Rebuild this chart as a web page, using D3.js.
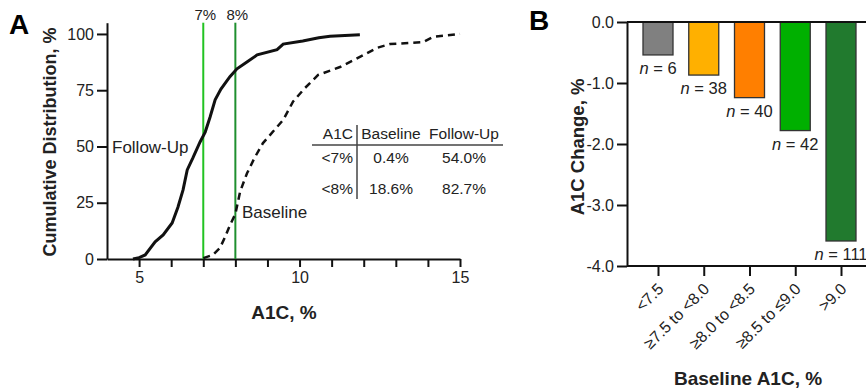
<!DOCTYPE html>
<html>
<head>
<meta charset="utf-8">
<script src="https://cdn.jsdelivr.net/npm/d3@7"></script>
<style>
  body { margin: 0; background: #fff; }
  svg { font-family: Arial, "Liberation Sans", sans-serif; }
  .axis path, .axis line { stroke: #111; stroke-width: 2px; }
  .axis text { fill: #222; }
</style>
</head>
<body>
<div id="chart"></div>
<script>
// panel A: cumulative distributions (A1C %, cumulative %)
const followUp = [
  [4.81, 0], [5.0, 0.6], [5.19, 1.8], [5.5, 7.6], [5.75, 10.7], [6.03, 16],
  [6.21, 23], [6.37, 30.7], [6.5, 39.6], [6.68, 45], [6.9, 52], [7.06, 56.4],
  [7.21, 63], [7.37, 70.7], [7.55, 75.5], [7.83, 81], [8.05, 84.5], [8.36, 87.5],
  [8.68, 90.7], [9.3, 93], [9.49, 95.5], [10.1, 96.9], [10.6, 98.3], [10.95, 99],
  [11.88, 99.6]
];
const baseline = [
  [7.0, 0.4], [7.3, 1.8], [7.52, 4.9], [7.68, 9.8], [7.83, 15], [8.0, 20],
  [8.15, 30], [8.36, 38], [8.6, 45], [8.86, 51.5], [9.3, 58.7], [9.49, 61.8],
  [9.8, 70], [10.17, 76], [10.58, 81.8], [11.26, 85.3], [11.88, 89.8],
  [12.41, 93.8], [12.82, 95.5], [13.85, 96.4], [14.16, 98.7], [15.0, 100]
];
const cutoffs = [7, 8];
const cutoffLabels = ["7%", "8%"];
const tableHeader = ["A1C", "Baseline", "Follow-Up"];
const tableRows = [["<7%", "0.4%", "54.0%"], ["<8%", "18.6%", "82.7%"]];

// panel B: mean A1C change by baseline group
const groups = ["<7.5", "≥7.5 to <8.0", "≥8.0 to <8.5", "≥8.5 to ≤9.0", ">9.0"];
const changes = [-0.54, -0.87, -1.24, -1.78, -3.59];
const counts = [6, 38, 40, 42, 111];
const barColors = ["#808080", "#ffb000", "#ff7f00", "#00b000", "#217a2e"];

const svg = d3.select("#chart").append("svg")
  .attr("width", 866).attr("height", 390);

// ---------- panel A ----------
const a = svg.append("g");
const xA = d3.scaleLinear().domain([4, 15]).range([107, 460]);
const yA = d3.scaleLinear().domain([0, 105]).range([259, 22.7]);

a.append("g").attr("class", "axis")
  .attr("transform", "translate(0,259)")
  .call(d3.axisBottom(xA).tickValues(d3.range(5, 16)).tickSize(8).tickSizeOuter(0)
    .tickFormat(d => d % 5 === 0 ? d : ""))
  .call(g => g.selectAll("text").attr("font-size", 16).attr("y", 22).attr("dy", "0.15em"));

a.append("g").attr("class", "axis")
  .attr("transform", "translate(107,0)")
  .call(d3.axisLeft(yA).tickValues([0, 25, 50, 75, 100]).tickSize(10).tickSizeOuter(0))
  .call(g => g.selectAll("text").attr("font-size", 16).attr("x", -13));

// cutoff lines
a.selectAll(".cut").data(cutoffs).join("line")
  .attr("x1", d => xA(d)).attr("x2", d => xA(d))
  .attr("y1", yA(105)).attr("y2", yA(0))
  .attr("stroke", (d, i) => i === 0 ? "#22c322" : "#1f8f2f")
  .attr("stroke-width", 2);
a.selectAll(".cutlab").data(cutoffs).join("text")
  .attr("x", d => xA(d) + 2).attr("y", 20)
  .attr("text-anchor", "middle").attr("font-size", 15).attr("fill", "#222")
  .text((d, i) => cutoffLabels[i]);

const line = d3.line().x(d => xA(d[0])).y(d => yA(d[1]));
a.append("path").datum(baseline).attr("d", line)
  .attr("fill", "none").attr("stroke", "#111").attr("stroke-width", 2.5)
  .attr("stroke-dasharray", "7,5");
a.append("path").datum(followUp).attr("d", line)
  .attr("fill", "none").attr("stroke", "#111").attr("stroke-width", 3);

a.append("text").attr("x", 112).attr("y", 153).attr("font-size", 17).attr("fill", "#222").text("Follow-Up");
a.append("text").attr("x", 242).attr("y", 218).attr("font-size", 17).attr("fill", "#222").text("Baseline");

// inset table
const tb = a.append("g").attr("font-size", 15.5).attr("fill", "#222");
const colX = [353, 391, 464];
tb.selectAll(".hdr").data(tableHeader).join("text")
  .attr("x", (d, i) => colX[i]).attr("y", 138.5)
  .attr("text-anchor", (d, i) => i === 0 ? "end" : "middle").text(d => d);
tableRows.forEach((row, r) => {
  tb.selectAll(".r" + r).data(row).join("text")
    .attr("x", (d, i) => colX[i]).attr("y", 162.5 + r * 31)
    .attr("text-anchor", (d, i) => i === 0 ? "end" : "middle").text(d => d);
});
tb.append("line").attr("x1", 312).attr("x2", 503).attr("y1", 145).attr("y2", 145)
  .attr("stroke", "#444").attr("stroke-width", 1.5);
tb.append("line").attr("x1", 357).attr("x2", 357).attr("y1", 125).attr("y2", 199)
  .attr("stroke", "#444").attr("stroke-width", 1.5);

a.append("text").attr("transform", "translate(56,142) rotate(-90)")
  .attr("text-anchor", "middle").attr("font-size", 18).attr("font-weight", "bold")
  .attr("fill", "#222").text("Cumulative Distribution, %");
a.append("text").attr("x", 284).attr("y", 319).attr("text-anchor", "middle")
  .attr("font-size", 19).attr("font-weight", "bold").attr("fill", "#222").text("A1C, %");
a.append("text").attr("x", 9).attr("y", 34).attr("font-size", 28).attr("font-weight", "bold").text("A");

// ---------- panel B ----------
const b = svg.append("g");
const xB = d3.scalePoint().domain(groups).range([658, 841]);
const yB = d3.scaleLinear().domain([-4, 0]).range([266, 22]);
const barW = 30;

b.selectAll("rect").data(groups).join("rect")
  .attr("x", d => xB(d) - barW / 2).attr("width", barW)
  .attr("y", yB(0)).attr("height", (d, i) => yB(changes[i]) - yB(0))
  .attr("fill", (d, i) => barColors[i]).attr("stroke", "#333").attr("stroke-width", 1.3);

const nLab = b.selectAll(".nlab").data(groups).join("text")
  .attr("x", d => xB(d)).attr("y", (d, i) => yB(changes[i]) + 19)
  .attr("text-anchor", "middle").attr("font-size", 16.5).attr("fill", "#222");
nLab.append("tspan").attr("font-style", "italic").text("n");
nLab.append("tspan").text((d, i) => " = " + counts[i]);

b.append("g").attr("class", "axis")
  .attr("transform", "translate(627,0)")
  .call(d3.axisLeft(yB).tickValues([0, -1, -2, -3, -4]).tickSize(10).tickSizeOuter(0)
    .tickFormat(d => d.toFixed(1)))
  .call(g => g.selectAll("text").attr("font-size", 16).attr("x", -13));

b.append("line").attr("x1", 627).attr("x2", 866).attr("y1", yB(0)).attr("y2", yB(0))
  .attr("stroke", "#111").attr("stroke-width", 2);

b.append("g").attr("class", "axis")
  .attr("transform", "translate(0,266)")
  .call(d3.axisBottom(xB).tickSize(10).tickSizeOuter(0))
  .call(g => g.select(".domain").attr("d", "M627,0H866"))
  .call(g => g.selectAll("text")
    .attr("font-size", 16).attr("text-anchor", "end")
    .attr("dy", 0).attr("y", 0)
    .attr("transform", "translate(6,24) rotate(-45)"));

b.append("text").attr("transform", "translate(584,147) rotate(-90)")
  .attr("text-anchor", "middle").attr("font-size", 18.5).attr("font-weight", "bold")
  .attr("fill", "#222").text("A1C Change, %");
b.append("text").attr("x", 748).attr("y", 385).attr("text-anchor", "middle")
  .attr("font-size", 19).attr("font-weight", "bold").attr("fill", "#222").text("Baseline A1C, %");
b.append("text").attr("x", 529).attr("y", 30).attr("font-size", 28).attr("font-weight", "bold").text("B");
</script>
</body>
</html>
